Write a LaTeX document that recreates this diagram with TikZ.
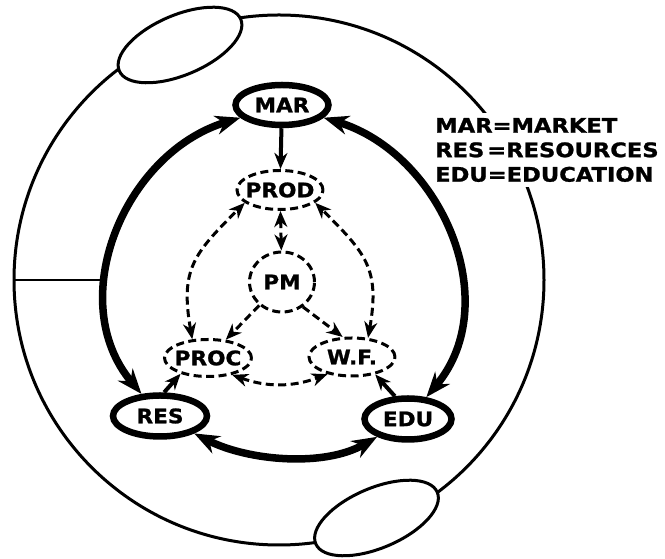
\documentclass[tikz,border=0pt]{standalone}
\usepackage{fontspec}
\newfontfamily\lblfont{DejaVu Sans}[FakeStretch=1.08, BoldFeatures={FakeBold=1.2}]
\newfontfamily\legfont{DejaVu Sans}[FakeStretch=1.13, BoldFeatures={FakeBold=1.2}]
\usetikzlibrary{shapes.geometric, arrows.meta}
\newcommand\zlabel[1]{\makebox[0pt]{#1}}
\begin{document}
\begin{tikzpicture}[x=1pt,y=1pt,
  thicknode/.style={ellipse, draw, line width=6.5pt, inner sep=0pt,
    font=\lblfont\bfseries\fontsize{20}{20}\selectfont},
  dashnode/.style={ellipse, draw, line width=3pt, dash pattern=on 8pt off 4.5pt, inner sep=0pt,
    font=\lblfont\bfseries\fontsize{20}{20}\selectfont},
  bigtip/.tip={Stealth[length=25pt,width=19pt,inset=8pt]},
  smalltip/.tip={Stealth[length=16pt,width=13pt,inset=5pt]},
  bigarrow/.style={line width=7.5pt, bigtip-bigtip},
  solidarrow/.style={line width=4pt, -smalltip},
  dasharrow/.style={line width=3pt, dash pattern=on 8pt off 4.5pt, -smalltip},
  dashboth/.style={line width=3pt, dash pattern=on 8pt off 4.5pt, smalltip-smalltip},
  thinline/.style={line width=3pt},
  sideoval/.style={line width=3pt, fill=white},
]
\path[use as bounding box] (0,0) rectangle (665,559);

% outer ring
\coordinate (oc) at (279,279);
\draw[thinline] (oc) circle[radius=265];
\coordinate (ol) at (14,279);
\coordinate (il) at (104,279);
\draw[line width=2.3pt] (ol) -- (il);

% small ovals on the ring
\draw[sideoval, rotate around={23:(180,514)}] (180,514) ellipse[x radius=66, y radius=30];
\draw[sideoval, rotate around={23:(376.5,41)}] (376.5,41) ellipse[x radius=66, y radius=30];

% legend
\node[anchor=west, fill=white, inner xsep=1pt, inner ysep=5pt, align=left,
  font=\legfont\bfseries\fontsize{20}{24.5}\selectfont] (legend) at (434,409)
  {MAR=MARKET\\RES\hspace{0.15em}=RESOURCES\\EDU=EDUCATION};

% nodes
\node[thicknode, minimum width=93pt, minimum height=40pt] (mar) at (282,454) {\zlabel{MAR}};
\node[dashnode, minimum width=86pt, minimum height=39pt] (prod) at (280,369) {\zlabel{PROD}};
\node[dashnode, minimum width=65pt, minimum height=60pt] (pm) at (282,277) {\zlabel{PM}};
\node[dashnode, minimum width=87pt, minimum height=37pt] (proc) at (208,201) {\zlabel{PROC}};
\node[dashnode, minimum width=86pt, minimum height=38pt] (wf) at (352,202) {\zlabel{W.F.}};
\node[thicknode, minimum width=94pt, minimum height=41pt] (res) at (160,143) {\zlabel{RES}};
\node[thicknode, minimum width=87pt, minimum height=41pt] (edu) at (408,140) {\zlabel{EDU}};

% thick ring arrows
\draw[bigarrow] (mar) to[out=197, in=130, looseness=1.06] (res);
\draw[bigarrow] (mar) to[out=-17, in=50, looseness=1.06] (edu);
\draw[bigarrow] (res) to[out=-27, in=210, looseness=0.85] (edu);

% solid short arrows
\draw[solidarrow] (mar) -- (prod);
\draw[solidarrow] (res.80) -- (proc.-150);
\draw[solidarrow] (edu.120) -- (wf.-37);

% dashed arrows
\draw[dashboth] (pm) -- (prod);
\draw[dashboth] (proc.130) to[out=100, in=225, looseness=1.25] (prod.200);
\draw[dashboth] (wf.50) to[out=80, in=-45, looseness=1.25] (prod.-20);
\draw[dasharrow] (pm) -- (proc);
\draw[dasharrow] (pm.-50) -- (wf.115);
\draw[dashboth] (proc.-35) to[bend right=20] (wf.-145);
\end{tikzpicture}
\end{document}
